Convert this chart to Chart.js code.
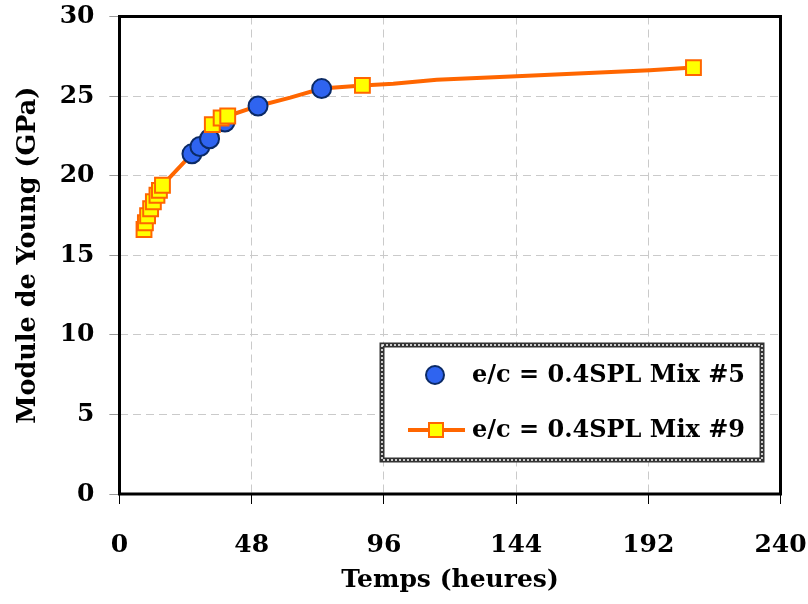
<!DOCTYPE html>
<html lang="fr">
<head>
  <meta charset="UTF-8" />
  <title>Module de Young</title>
  <script src="https://cdn.jsdelivr.net/npm/chart.js"></script>
  <style>
    body {
      margin: 0;
      background-color: #fff;
    }
    canvas {
      display: block;
    }
  </style>
</head>
<body>
  <canvas id="youngChart" width="808" height="604"></canvas>

  <script>
    // Mix #5 (cercles bleus)
    const mix5Hours = [26.3, 29.2, 32.7, 38.3, 50.3, 73.4];
    const mix5Gpa = [21.37, 21.83, 22.32, 23.37, 24.38, 25.47];

    // Mix #9 (carrés jaunes)
    const mix9Hours = [8.9, 9.4, 10.2, 11.3, 12.3, 13.6, 14.5, 15.6, 33.7, 36.9, 39.3, 88.2, 208.4];
    const mix9Gpa = [16.62, 17.04, 17.48, 17.92, 18.36, 18.77, 19.08, 19.40, 23.21, 23.62, 23.75, 25.67, 26.79];

    // tracé de la courbe orange (passe aussi par des points sans marqueur)
    const curveHours = [8.9, 9.4, 10.2, 11.3, 12.3, 13.6, 14.5, 15.6, 26.3, 29.2, 32.7, 33.7, 36.9, 39.3, 50.3, 62, 73.4, 88.2, 99.4, 115.2, 144.2, 192.6, 208.4];
    const curveGpa = [16.62, 17.04, 17.48, 17.92, 18.36, 18.77, 19.08, 19.40, 21.37, 21.83, 22.32, 23.21, 23.62, 23.75, 24.38, 24.9, 25.47, 25.67, 25.78, 26.03, 26.24, 26.62, 26.79];

    const xTicks = [0, 48, 96, 144, 192, 240];
    const yTicks = [0, 5, 10, 15, 20, 25, 30];

    const legendLabels = ['e/c = 0.4SPL Mix #5', 'e/c = 0.4SPL Mix #9'];

    const serif = '"DejaVu Serif", serif';
    const orange = '#ff6600';
    const blueFill = '#2f64f0';
    const blueEdge = '#0b2a66';
    const yellow = '#ffff00';

    const toPoints = (xs, ys) => xs.map((x, i) => ({ x: x, y: ys[i] }));

    // cadre noir + légende
    const framePlugin = {
      id: 'frame',
      afterDraw(chart) {
        const ctx = chart.ctx;
        const a = chart.chartArea;
        ctx.save();
        ctx.strokeStyle = '#000';
        ctx.lineWidth = 3;
        ctx.strokeRect(a.left, a.top, a.right - a.left, a.bottom - a.top);

        // boîte de légende
        const bx = 382, by = 345, bw = 380, bh = 115;
        ctx.fillStyle = '#fff';
        ctx.fillRect(bx, by, bw, bh);
        ctx.strokeStyle = '#333';
        ctx.lineWidth = 5;
        ctx.strokeRect(bx, by, bw, bh);
        ctx.strokeStyle = '#fff';
        ctx.lineWidth = 1.5;
        ctx.setLineDash([2, 2]);
        ctx.strokeRect(bx, by, bw, bh);
        ctx.setLineDash([]);

        // Mix #5
        ctx.beginPath();
        ctx.arc(435, 375, 9, 0, Math.PI * 2);
        ctx.fillStyle = blueFill;
        ctx.fill();
        ctx.strokeStyle = blueEdge;
        ctx.lineWidth = 2;
        ctx.stroke();

        // Mix #9
        ctx.beginPath();
        ctx.moveTo(408, 430);
        ctx.lineTo(465, 430);
        ctx.strokeStyle = orange;
        ctx.lineWidth = 4;
        ctx.stroke();
        ctx.fillStyle = yellow;
        ctx.fillRect(429, 423, 14, 14);
        ctx.lineWidth = 2;
        ctx.strokeRect(429, 423, 14, 14);

        ctx.fillStyle = '#000';
        ctx.font = 'bold 24px ' + serif;
        ctx.textBaseline = 'middle';
        ctx.textAlign = 'left';
        ctx.fillText(legendLabels[0], 472, 376);
        ctx.fillText(legendLabels[1], 472, 431);
        ctx.restore();
      }
    };

    new Chart(document.getElementById('youngChart'), {
      type: 'scatter',
      data: {
        datasets: [
          {
            label: legendLabels[1],
            data: toPoints(mix9Hours, mix9Gpa),
            pointStyle: 'rect',
            pointRadius: 10.5,
            pointBackgroundColor: yellow,
            pointBorderColor: orange,
            pointBorderWidth: 2,
            showLine: false,
            order: 1
          },
          {
            label: legendLabels[0],
            data: toPoints(mix5Hours, mix5Gpa),
            pointStyle: 'circle',
            pointRadius: 9.5,
            pointBackgroundColor: blueFill,
            pointBorderColor: blueEdge,
            pointBorderWidth: 2,
            showLine: false,
            order: 2
          },
          {
            label: 'courbe',
            data: toPoints(curveHours, curveGpa),
            showLine: true,
            borderColor: orange,
            borderWidth: 4,
            pointRadius: 0,
            tension: 0,
            order: 3
          }
        ]
      },
      options: {
        responsive: false,
        animation: false,
        layout: { padding: { top: 16.5, right: 27.5, bottom: 0, left: 0 } },
        plugins: {
          legend: { display: false },
          tooltip: { enabled: false }
        },
        scales: {
          x: {
            type: 'linear',
            min: 0,
            max: 240,
            afterBuildTicks: s => { s.ticks = xTicks.map(v => ({ value: v })); },
            afterFit: s => {
              s.height = 110;
              s.paddingLeft = 0;
              s.paddingRight = 0;
            },
            ticks: {
              color: '#000',
              font: { family: serif, size: 25, weight: 'bold' },
              padding: 26,
              maxRotation: 0
            },
            grid: {
              color: '#cacaca',
              lineWidth: 1,
              tickLength: 10,
              tickColor: '#000',
              tickWidth: 1,
              tickBorderDash: [1, 0]
            },
            border: { display: false, dash: [8, 5] },
            title: {
              display: true,
              text: 'Temps (heures)',
              color: '#000',
              font: { family: serif, size: 25, weight: 'bold' },
              padding: { top: 0, bottom: 9 }
            }
          },
          y: {
            min: 0,
            max: 30,
            afterBuildTicks: s => { s.ticks = yTicks.map(v => ({ value: v })); },
            afterFit: s => {
              s.width = 119.5;
              s.paddingTop = 0;
              s.paddingBottom = 0;
            },
            ticks: {
              color: '#000',
              font: { family: serif, size: 25, weight: 'bold' },
              padding: 15
            },
            grid: {
              color: '#cacaca',
              lineWidth: 1,
              tickLength: 10,
              tickColor: '#777',
              tickWidth: 1,
              tickBorderDash: [1, 0]
            },
            border: { display: false, dash: [8, 5] },
            title: {
              display: true,
              text: 'Module de Young (GPa)',
              color: '#000',
              font: { family: serif, size: 25.5, weight: 'bold' },
              padding: { top: 13, bottom: 0 }
            }
          }
        }
      },
      plugins: [framePlugin]
    });
  </script>
</body>
</html>
